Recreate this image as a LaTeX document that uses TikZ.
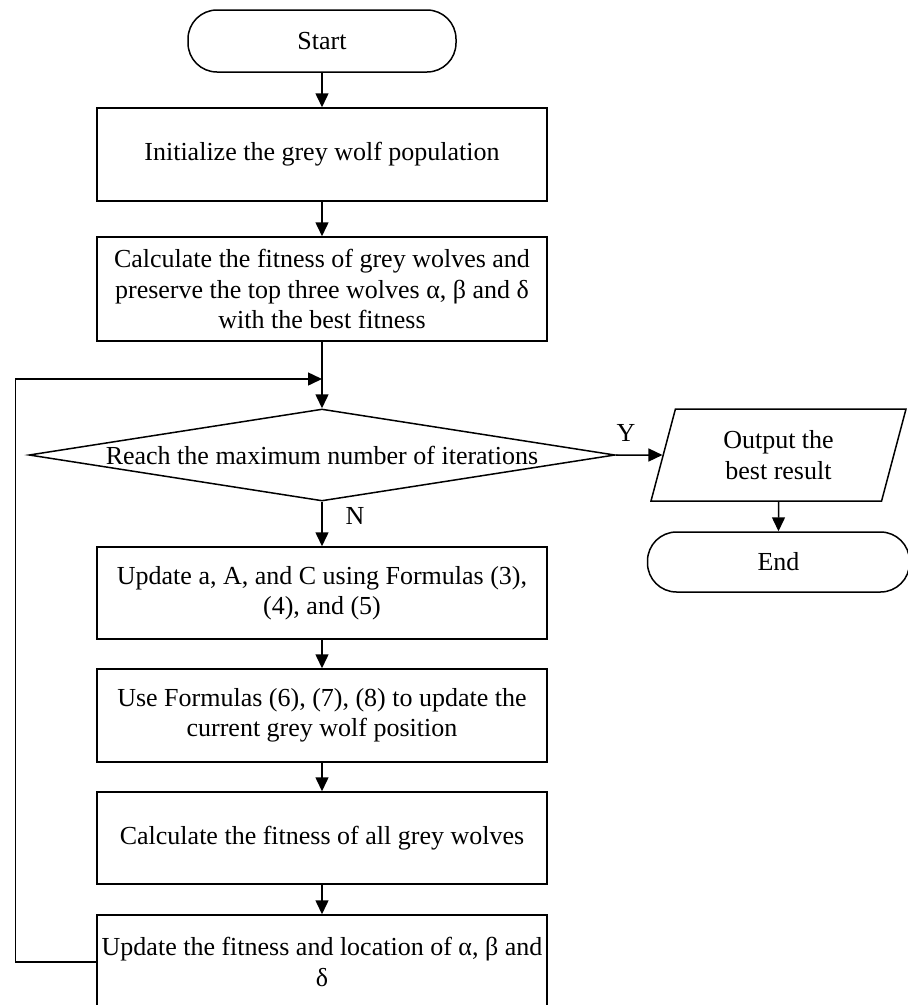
\documentclass[tikz,border=0pt]{standalone}
\usepackage{fontspec}
\setmainfont{Liberation Serif}
\usetikzlibrary{arrows.meta,shapes.geometric}

\begin{document}
\begin{tikzpicture}[x=1pt,y=-1pt,font=\fontsize{26}{30.5}\selectfont,
proc/.style={draw,line width=1.5pt,align=center,minimum width=450pt,inner sep=0pt},
term/.style={draw,line width=1.5pt,rounded corners=29pt,align=center,inner sep=0pt},
decide/.style={draw,diamond,line width=1.5pt,inner sep=0pt,aspect=6.37,minimum width=586pt,minimum height=92pt},
io/.style={draw,trapezium,trapezium left angle=63.4,trapezium right angle=116.6,trapezium stretches body,line width=1.5pt,align=center,inner sep=0pt},
arr/.style={-{Triangle[length=14pt,width=13pt]},line width=1.5pt}]
\useasboundingbox (0,0) rectangle (908,1005);

\node[term,minimum width=268pt,minimum height=62pt](start)at(322,41){Start};
\node[proc,minimum height=93pt](init)at(322,154.5){Initialize the grey wolf population};
\node[proc,minimum height=104pt](fit)at(322,289){Calculate the fitness of grey wolves and\\preserve the top three wolves α, β and δ\\with the best fitness};
\coordinate(join)at(322,379);
\node[decide](iter)at(322,455){Reach the maximum number of iterations};
\node[io,minimum width=255pt,minimum height=92pt](out)at(778.5,455){Output the\\best result};
\node[term,minimum width=262pt,minimum height=60pt](end)at(778.5,562){End};
\node[proc,minimum height=92pt](coef)at(322,593){Update a, A, and C using Formulas (3),\\(4), and (5)};
\node[proc,minimum height=93pt](pos)at(322,715.5){Use Formulas (6), (7), (8) to update the\\current grey wolf position};
\node[proc,minimum height=92pt](allfit)at(322,838){Calculate the fitness of all grey wolves};
\node[proc,minimum height=94pt](best)at(322,962){Update the fitness and location of α, β and\\δ};

\draw[arr](start)--(init);\draw[arr](init)--(fit);\draw[arr](fit)--(iter);
\draw[arr](iter)--(out);\draw[arr](out)--(end);
\draw[arr](iter)--(coef);\draw[arr](coef)--(pos);\draw[arr](pos)--(allfit);\draw[arr](allfit)--(best);
\draw[arr](best.west)--++(-81,0)|-(join);
\node(ylab)at(626,433){Y};
\node(nlab)at(355,516){N};
\end{tikzpicture}
\end{document}
